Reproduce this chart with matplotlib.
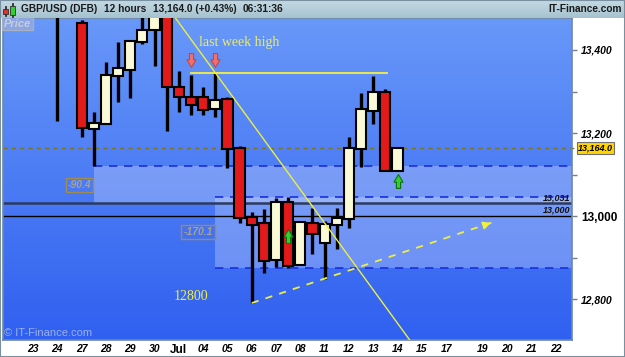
import matplotlib
matplotlib.use("Agg")
import matplotlib.pyplot as plt
import numpy as np
from matplotlib.patches import Rectangle
from matplotlib.path import Path
import matplotlib.colors as mcolors

plt.rcParams["font.family"] = ["Liberation Sans", "DejaVu Sans"]

# ---------------- data ----------------
candle_idx = list(range(31))   # 12-hour candles, Jun 23 00:00 ... Jul 14 00:00
opens  = [14850, 14880, 14950, 13700, 13465, 13210, 13222, 13337, 13352, 13419, 13448,
          13485, 13311, 13287, 13287, 13258, 13282, 13164, 12997, 12984, 12895, 13034,
          12883, 12984, 12935, 12979, 12993, 13162, 13253, 13299, 13109]
highs  = [14900, 15000, 15018, 13900, 13472, 13251, 13371, 13419, 13422, 13490, 13500,
          13510, 13350, 13341, 13311, 13345, 13287, 13169, 13010, 13017, 13044, 13045.5,
          12988, 13020, 12988, 13020, 13191, 13297, 13337, 13306, 13164]
lows   = [14800, 14830, 13229, 13550, 13191, 13121.4, 13222, 13275, 13285, 13414, 13362,
          13205, 13251, 13244, 13244, 13239, 13116, 12984, 12791, 12863, 12878, 12875.4,
          12883, 12909, 12849, 12921, 12972, 13118, 13222, 13109, 13109]
closes = [14880, 14950, 13700, 13680, 13212, 13224, 13340, 13357, 13422, 13448, 13485,
          13311, 13287, 13268, 13256, 13280, 13162, 12995, 12979, 12892, 13034, 12880,
          12986, 12957, 12981, 12995, 13164, 13258, 13299, 13109, 13164]

tick_pos = [0, 2, 4, 6, 8, 10, 12, 14, 16, 18, 20, 22, 24, 26, 28, 30, 32, 34, 37, 39, 41, 43]
tick_labels = ["23", "24", "27", "28", "29", "30", "Jul", "04", "05", "06", "07", "08",
               "11", "12", "13", "14", "15", "17", "19", "20", "21", "22"]
y_major = [12800, 13000, 13200, 13400]
y_minor = [12900, 13100, 13300]
y_labels = ["12,800", "13,000", "13,200", "13,400"]

last_price = 13164.0
level_a = 13031
level_b = 13000
last_week_high = 13345
zone1 = (5, 13031, 13121.4)      # start idx, bottom, top
zone2 = (15, 12875.4, 13045.5)
trend_x = [11.0, 31.5]
trend_y = [13506, 12682]
proj_x = [18.0, 37.9]
proj_y = [12791, 12986]
down_arrows_x = [13, 15]
down_arrows_y = [13376, 13376]
up_arrows_x = [21, 30]
up_arrows_y = [12952, 13085]

XMIN, XMAX = -2.47, 44.36
YMIN, YMAX = 12702, 13477

# ---------------- figure ----------------
W, H = 625, 357
fig = plt.figure(figsize=(W / 100, H / 100), dpi=100)
fig.patch.set_facecolor("white")

ax = fig.add_axes([3 / W, (H - 340) / H, 569 / W, 322 / H])
ax.set_xlim(XMIN, XMAX)
ax.set_ylim(YMIN, YMAX)

# background gradient
top_c = np.array(mcolors.to_rgb("#6898F8"))
bot_c = np.array(mcolors.to_rgb("#3060F0"))
t = np.linspace(0, 1, 256)[:, None]
grad = (top_c * (1 - t) + bot_c * t)[:, None, :]
ax.imshow(grad, extent=[XMIN, XMAX, YMIN, YMAX], aspect="auto", origin="upper", zorder=0)

# zones
for (sx, lo, hi) in [zone1, zone2]:
    ax.add_patch(Rectangle((sx, lo), XMAX - sx, hi - lo, facecolor="white", alpha=0.25,
                           edgecolor="none", zorder=1))
dash = (0, (5, 4))
ax.plot([zone1[0], XMAX], [zone1[2]] * 2, color="#1a2ee0", lw=1.2, ls=dash, zorder=2)
ax.plot([zone2[0], XMAX], [zone2[2]] * 2, color="#1a2ee0", lw=1.2, ls=dash, zorder=2)
ax.plot([zone2[0], XMAX], [zone2[1]] * 2, color="#1a2ee0", lw=1.2, ls=dash, zorder=2)

box_kw = dict(boxstyle="square,pad=0.2", fc="none", ec="#a08c50", lw=1)
ax.text(zone1[0] - 0.2, 13076, "-90.4", ha="right", va="center", fontsize=7.5,
        fontstyle="italic", fontweight="bold", color="#a8a090", bbox=box_kw, zorder=6)
ax.text(zone2[0] - 0.2, 12961, "-170.1", ha="right", va="center", fontsize=7.5,
        fontstyle="italic", fontweight="bold", color="#a8a090", bbox=box_kw, zorder=6)

# horizontal levels
ax.axhline(level_a, color="#2a3a60", lw=1.8, zorder=2)
ax.axhline(level_b, color="black", lw=1.0, zorder=2)
ax.text(XMAX - 0.1, level_a + 3, "13,031", ha="right", va="bottom", fontsize=6.5,
        fontstyle="italic", fontweight="bold", color="#101010", zorder=6)
ax.text(XMAX - 0.1, level_b + 3, "13,000", ha="right", va="bottom", fontsize=6.5,
        fontstyle="italic", fontweight="bold", color="#101010", zorder=6)

# current price dashed line (extends into axis area)
ax.plot([0, 1.01], [last_price] * 2, transform=ax.get_yaxis_transform(), color="#7a7420",
        lw=1.0, ls=(0, (3, 3)), clip_on=False, zorder=2)

# candles
for i, o, h, l, c in zip(candle_idx, opens, highs, lows, closes):
    ax.vlines(i, l, h, color="black", lw=2.4, zorder=3)
    lo_b, hi_b = min(o, c), max(o, c)
    if hi_b - lo_b < 4:
        hi_b = lo_b + 4
    fc = "#FAFAD6" if c >= o else "#E21A1A"
    ax.add_patch(Rectangle((i - 0.42, lo_b), 0.84, hi_b - lo_b, facecolor=fc,
                           edgecolor="black", lw=1.5, zorder=4))

# trend lines
ax.plot(trend_x, trend_y, color="#EEEE40", lw=1.0, zorder=5)
ax.plot([13, 29.1], [last_week_high] * 2, color="#F4F040", lw=1.3, zorder=5)
ax.plot(proj_x, proj_y, color="#EEEE40", lw=1.3, ls=(0, (4, 4)), zorder=5)
dx = proj_x[1] - proj_x[0]
dy = proj_y[1] - proj_y[0]
ax.annotate("", xy=(proj_x[1], proj_y[1]),
            xytext=(proj_x[1] - dx * 0.04, proj_y[1] - dy * 0.04),
            arrowprops=dict(arrowstyle="-|>", color="#F4F040", lw=1.0, mutation_scale=12),
            zorder=5)

ax.text(17.0, 13419, "last week high", ha="center", va="center", fontsize=10,
        family="Liberation Serif", color="#ECEC6A", zorder=6)
ax.text(13.0, 12806, "12800", ha="center", va="center", fontsize=10,
        family="Liberation Serif", color="#F4F040", zorder=6)

# arrows
down_path = Path([(-0.3, 1), (0.3, 1), (0.3, 0.1), (0.65, 0.1), (0, -1), (-0.65, 0.1),
                  (-0.3, 0.1), (-0.3, 1)])
up_path = Path([(x, -y) for x, y in down_path.vertices])
ax.plot(down_arrows_x, down_arrows_y, ls="none", marker=down_path, markersize=10,
        markerfacecolor="#F07070", markeredgecolor="#C04848", markeredgewidth=0.8, zorder=7)
ax.plot(up_arrows_x, up_arrows_y, ls="none", marker=up_path, markersize=10,
        markerfacecolor="#30D030", markeredgecolor="#107010", markeredgewidth=0.8, zorder=7)

# labels inside plot
ax.text(0.002, 0.998, "Price", transform=ax.transAxes, ha="left", va="top", fontsize=8,
        fontstyle="italic", fontweight="bold", color="#C8CED8",
        bbox=dict(boxstyle="square,pad=0.15", fc="#8CA6E4", ec="#A8B0C0", lw=1), zorder=6)
ax.text(0.002, 0.005, "\u00a9 IT-Finance.com", transform=ax.transAxes, ha="left",
        va="bottom", fontsize=8, color="#9AB0EC", zorder=6)

# axes styling
ax.yaxis.tick_right()
ax.set_yticks(y_major)
ax.set_yticks(y_minor, minor=True)
ax.set_yticklabels(y_labels)
ax.tick_params(axis="y", which="both", length=3.5, width=1, color="#708090", pad=3)
for lab in ax.get_yticklabels():
    if lab.get_text() == "13,000":
        lab.set_fontsize(8.5)
        lab.set_fontweight("bold")
    else:
        lab.set_fontsize(7.5)
        lab.set_fontstyle("italic")
        lab.set_fontweight("bold")
ax.set_xticks(tick_pos)
ax.set_xticklabels(tick_labels)
ax.tick_params(axis="x", length=0, pad=3)
for lab in ax.get_xticklabels():
    if lab.get_text() == "Jul":
        lab.set_fontsize(8.5)
        lab.set_fontweight("bold")
    else:
        lab.set_fontsize(7.5)
        lab.set_fontstyle("italic")
        lab.set_fontweight("bold")
for s in ax.spines.values():
    s.set_color("#7088A0")
    s.set_linewidth(1.2)

# current price box
ax.text(1.0105, last_price, "13,164.0", transform=ax.get_yaxis_transform(), ha="left",
        va="center", fontsize=6.5, fontstyle="italic", fontweight="bold", color="black",
        bbox=dict(boxstyle="square,pad=0.12", fc="#FFD400", ec="#707070", lw=0.8),
        clip_on=False, zorder=8)

# title bar
tb = fig.add_axes([0, (H - 18) / H, 1, 18 / H])
tb.set_axis_off()
tc1 = np.array(mcolors.to_rgb("#C4DAE4"))
tc2 = np.array(mcolors.to_rgb("#A6C2CF"))
tg = (tc1 * (1 - t) + tc2 * t)[:, None, :]
tb.imshow(tg, extent=[0, 1, 0, 1], aspect="auto", origin="upper")
tb.set_xlim(0, 1)
tb.set_ylim(0, 1)
ty = 1 - 9.5 / H
tkw = dict(fontsize=7.3, fontweight="bold", color="#1a1a1a", va="center", ha="left")
fig.text(21 / W, ty, "GBP/USD (DFB)", **tkw)
fig.text(104 / W, ty, "12 hours", **tkw)
fig.text(153 / W, ty, "13,164.0 (+0.43%)", **tkw)
fig.text(243 / W, ty, "06:31:36", **tkw)
fig.text(622 / W, ty, "IT-Finance.com", fontsize=7.3, fontweight="bold", color="#1a1a1a",
         va="center", ha="right")

# icon
def fig_rect(x, y, w, h, fc, ec="#303030"):
    fig.patches.append(Rectangle((x / W, 1 - (y + h) / H), w / W, h / H, facecolor=fc,
                                 edgecolor=ec, lw=0.6, transform=fig.transFigure,
                                 figure=fig))
fig_rect(5, 6, 0.6, 10, "#404040")
fig_rect(3, 9, 5, 5, "#E03030")
fig_rect(12, 3, 0.6, 14, "#404040")
fig_rect(10, 6, 5, 9, "#30D030")

# figure border
fig.patches.append(Rectangle((0, 0), 1, 1, fill=False, edgecolor="#7890A0", lw=1.5,
                             transform=fig.transFigure, figure=fig))

fig.savefig("out.png", dpi=100)
